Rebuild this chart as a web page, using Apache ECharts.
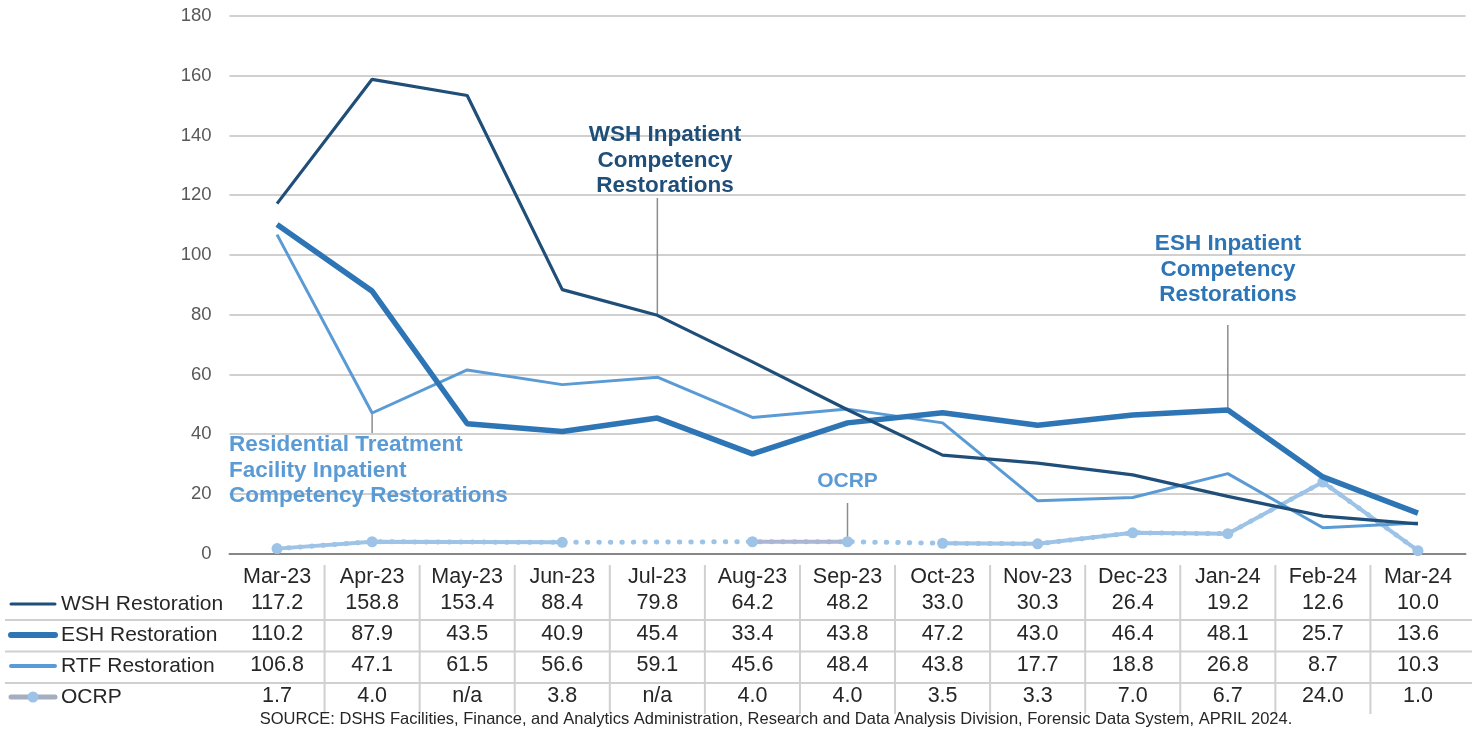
<!DOCTYPE html>
<html>
<head>
<meta charset="utf-8">
<script src="https://cdn.jsdelivr.net/npm/echarts@6/dist/echarts.min.js"></script>
<style>
html,body{margin:0;padding:0;background:#fff;}
#chart{width:1472px;height:732px;}
</style>
</head>
<body>
<div id="chart"></div>
<script>
// ---- data ----
const categories = ['Mar-23','Apr-23','May-23','Jun-23','Jul-23','Aug-23','Sep-23','Oct-23','Nov-23','Dec-23','Jan-24','Feb-24','Mar-24'];
const wsh  = [117.2,158.8,153.4,88.4,79.8,64.2,48.2,33.0,30.3,26.4,19.2,12.6,10.0];
const esh  = [110.2,87.9,43.5,40.9,45.4,33.4,43.8,47.2,43.0,46.4,48.1,25.7,13.6];
const rtf  = [106.8,47.1,61.5,56.6,59.1,45.6,48.4,43.8,17.7,18.8,26.8,8.7,10.3];
const ocrp = [1.7,4.0,null,3.8,null,4.0,4.0,3.5,3.3,7.0,6.7,24.0,1.0];
const yMin = 0, yMax = 180, yInterval = 20;
const rowLabels = ['WSH Restoration','ESH Restoration','RTF Restoration','OCRP'];
const rows = [wsh, esh, rtf, ocrp];
const sourceText = 'SOURCE: DSHS Facilities, Finance, and Analytics Administration, Research and Data Analysis Division, Forensic Data System, APRIL 2024.';
// OCRP solid segments as index ranges (Excel rendering quirk)
const ocrpSegments = [[0,3],[5,6],[7,12]];

const C_WSH = '#1F4E79', C_ESH = '#2E75B6', C_RTF = '#5B9BD5', C_OCRP = '#9DC3E6', C_OCRP2 = '#AAB6D3';
const FONT = '"Liberation Sans", Arial, sans-serif';

function segData(arr, from, to){ return arr.map((v,i)=> (i>=from && i<=to) ? v : null); }
function fmt(v){ return v == null ? 'n/a' : v.toFixed(1); }

const chart = echarts.init(document.getElementById('chart'), null, {renderer:'canvas'});

const TABLE_FS = 21.5;
const rowOffsets = [38.5, 69.5, 100.5, 131.5];
const xAxes = [{
  type:'category', data:categories, boundaryGap:true, gridIndex:0,
  axisLine:{show:true, lineStyle:{color:'#868686', width:2}},
  axisTick:{show:false},
  axisLabel:{interval:0, margin:12, color:'#262626', fontSize:TABLE_FS, fontFamily:FONT}
}];
rows.forEach((r, k) => {
  xAxes.push({
    type:'category', data:categories, boundaryGap:true, gridIndex:0, position:'bottom',
    offset: rowOffsets[k],
    axisLine:{show:false}, axisTick:{show:false}, splitLine:{show:false},
    axisLabel:{interval:0, margin:0, color:'#262626', fontSize:TABLE_FS, fontFamily:FONT,
      formatter:(v, i) => fmt(r[i])}
  });
});

const series = [
  {name:'OCRP dotted', type:'line', data:ocrp, connectNulls:true, showSymbol:false, symbol:'none',
   lineStyle:{color:C_OCRP, width:5, type:[0.5,11], cap:'round'}, z:2, silent:true},
  {name:'OCRP seg1', type:'line', data:segData(ocrp, ocrpSegments[0][0], ocrpSegments[0][1]), connectNulls:true,
   symbol:'circle', symbolSize:11, itemStyle:{color:C_OCRP}, lineStyle:{color:C_OCRP, width:4}, z:3},
  {name:'OCRP seg2', type:'line', data:segData(ocrp, ocrpSegments[1][0], ocrpSegments[1][1]), connectNulls:true,
   symbol:'circle', symbolSize:11, itemStyle:{color:C_OCRP}, lineStyle:{color:C_OCRP2, width:4}, z:3},
  {name:'OCRP seg3', type:'line', data:segData(ocrp, ocrpSegments[2][0], ocrpSegments[2][1]), connectNulls:true,
   symbol:'circle', symbolSize:11, itemStyle:{color:C_OCRP}, lineStyle:{color:C_OCRP, width:4}, z:3},
  {name:'RTF Restoration', type:'line', data:rtf, symbol:'none', lineStyle:{color:C_RTF, width:3}, z:4},
  {name:'ESH Restoration', type:'line', data:esh, symbol:'none', lineStyle:{color:C_ESH, width:5.5}, z:5},
  {name:'WSH Restoration', type:'line', data:wsh, symbol:'none', lineStyle:{color:C_WSH, width:3.2}, z:6}
];

chart.setOption({
  animation:false,
  backgroundColor:'#fff',
  grid:{left:229.5, right:6.5, top:16, bottom:178.3, containLabel:false},
  xAxis:xAxes,
  yAxis:{type:'value', min:yMin, max:yMax, interval:yInterval,
    axisLine:{show:false}, axisTick:{show:false},
    axisLabel:{margin:18, color:'#595959', fontSize:18.5, fontFamily:FONT},
    splitLine:{lineStyle:{color:'#D0D0D0', width:2}}},
  series:series
});

// ---- table lines, legend swatches, annotations ----
function pt(i, v){ return chart.convertToPixel({xAxisIndex:0, yAxisIndex:0}, [i, v]); }
const g = [];
const n = categories.length;
// vertical separators between categories
for (let i = 0; i < n - 1; i++) {
  const x = (pt(i,0)[0] + pt(i+1,0)[0]) / 2;
  g.push({type:'line', shape:{x1:x, y1:565, x2:x, y2:714}, style:{stroke:'#D0D0D0', lineWidth:2}, silent:true});
}
// horizontal separators between rows
[620, 651.5, 683].forEach(y => {
  g.push({type:'line', shape:{x1:5, y1:y, x2:1472, y2:y}, style:{stroke:'#D0D0D0', lineWidth:2}, silent:true});
});
// row labels with swatches
const rowY = [604, 635, 666, 697];
const swatch = [
  {c:C_WSH, w:3}, {c:C_ESH, w:6}, {c:C_RTF, w:4}, {c:'#A5AEC0', w:5}
];
rowLabels.forEach((t, k) => {
  g.push({type:'line', shape:{x1:11, y1:rowY[k], x2:55, y2:rowY[k]}, style:{stroke:swatch[k].c, lineWidth:swatch[k].w, lineCap:'round'}, silent:true});
  if (k === 3) g.push({type:'circle', shape:{cx:33, cy:rowY[k], r:5.5}, style:{fill:C_OCRP}, silent:true});
  g.push({type:'text', x:61, y:rowY[k], style:{text:t, fill:'#262626', font:'21px ' + FONT, textVerticalAlign:'middle', textAlign:'left'}, silent:true});
});
// source
g.push({type:'text', x:776, y:719, style:{text:sourceText, fill:'#262626', font:'16.5px ' + FONT, textAlign:'center', textVerticalAlign:'middle'}, silent:true});

// annotations
const boldFont = 'bold 22.5px ' + FONT;
function label(lines, x, y, color, align){
  g.push({type:'text', x:x, y:y, style:{text:lines.join('\n'), fill:color, font:boldFont, lineHeight:25.7, textAlign:align, textVerticalAlign:'top'}, z:20, silent:true});
}
// WSH -> Jul-23
const pW = pt(4, wsh[4]);
label(['WSH Inpatient','Competency','Restorations'], 665, 122, C_WSH, 'center');
g.push({type:'line', shape:{x1:pW[0], y1:198, x2:pW[0], y2:pW[1]}, style:{stroke:'#8C8C8C', lineWidth:1.5}, silent:true});
// ESH -> Jan-24
const pE = pt(10, esh[10]);
label(['ESH Inpatient','Competency','Restorations'], 1228, 231, C_ESH, 'center');
g.push({type:'line', shape:{x1:pE[0], y1:325, x2:pE[0], y2:pE[1]}, style:{stroke:'#8C8C8C', lineWidth:1.5}, silent:true});
// RTF -> Apr-23
const pR = pt(1, rtf[1]);
label(['Residential Treatment','Facility Inpatient','Competency Restorations'], 229, 432, C_RTF, 'left');
g.push({type:'line', shape:{x1:pR[0], y1:pR[1], x2:pR[0], y2:433}, style:{stroke:'#8C8C8C', lineWidth:1.5}, silent:true});
// OCRP -> Sep-23
const pO = pt(6, ocrp[6]);
g.push({type:'text', x:pO[0], y:481, style:{text:'OCRP', fill:C_RTF, font:'bold 21px ' + FONT, textAlign:'center', textVerticalAlign:'middle'}, z:20, silent:true});
g.push({type:'line', shape:{x1:pO[0], y1:503, x2:pO[0], y2:pO[1]}, style:{stroke:'#8C8C8C', lineWidth:1.5}, silent:true});

chart.setOption({graphic:g});
</script>
</body>
</html>
